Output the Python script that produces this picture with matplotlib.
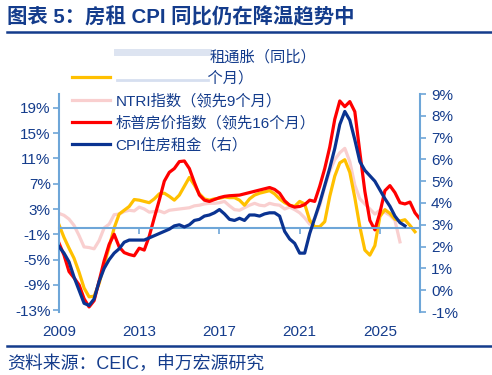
import matplotlib
matplotlib.use('Agg')
import matplotlib.pyplot as plt
from matplotlib.lines import Line2D
import numpy as np

plt.rcParams['font.family'] = ['Liberation Sans', 'Noto Sans CJK SC']
plt.rcParams['axes.unicode_minus'] = False

# 季度数据，起点 2009Q1
start_year = 2009.0
step = 0.25

rent_yoy = [0.5, -1.5, -3.2, -4.8, -7.0, -9.5, -10.9, -10.8, -8.8, -5.8, -3.0, 0.0,
            2.2, 2.8, 3.4, 4.5, 4.4, 4.2, 4.0, 4.6, 5.4, 5.5, 5.0, 4.4,
            5.2, 6.6, 8.0, 6.8, 5.4, 4.6, 4.4, 4.6, 4.7, 4.9, 4.8, 4.8,
            4.4, 3.6, 4.6, 5.2, 5.5, 5.7, 5.9, 5.4, 4.6, 4.0, 3.6, 3.4,
            4.2, 3.8, 1.2, 0.2, 0.2, 1.0, 5.0, 8.2, 10.3, 10.8, 8.8, 4.8,
            0.2, -3.5, -4.3, -2.8, 1.8, 2.9, 2.3, 1.4, 1.1, 1.3, 0.4, -0.6]

ntri = [2.3, 2.0, 1.4, 0.4, -1.2, -3.0, -3.1, -3.3, -2.0, 0.0, 0.6, 2.1,
        2.2, 2.6, 2.8, 2.7, 3.3, 3.0, 2.5, 2.6, 2.7, 2.4, 2.8, 2.9,
        3.0, 3.1, 3.2, 3.5, 3.6, 3.8, 3.9, 3.9, 4.0, 4.2, 3.5, 2.9,
        2.8, 3.2, 3.6, 3.9, 3.6, 3.5, 3.9, 3.7, 3.6, 3.0, 3.3, 2.9,
        2.4, 1.6, 0.6, 1.5, 3.5, 6.5, 9.0, 10.8, 11.9, 12.6, 10.5, 6.8,
        4.6, 3.8, 3.0, 2.2, 2.8, 2.5, 2.0, 1.2, -2.2]

sp_index = [-2.4, -4.3, -6.9, -7.9, -9.0, -11.2, -12.5, -11.5, -8.4, -5.2, -2.6, -1.0,
            -3.0, -3.9, -4.2, -4.4, -3.2, -3.5, -1.3, 1.6, 4.4, 7.4, 8.8, 9.4,
            10.5, 10.6, 9.4, 7.2, 5.2, 4.4, 4.2, 4.5, 4.8, 5.0, 5.1, 5.15,
            5.2, 5.4, 5.6, 5.8, 6.0, 6.2, 6.4, 6.1, 5.5, 4.3, 3.6, 3.3,
            3.4, 3.7, 4.4, 4.2, 6.6, 9.4, 12.8, 17.2, 20.1, 19.2, 20.0, 18.4,
            12.0, 5.8, 1.2, -0.3, 2.4, 5.9, 6.7, 5.6, 4.0, 3.8, 4.1, 2.4, 1.4]

cpi_rent = [2.0, 1.7, 1.3, 0.6, 0.0, -0.6, -0.7, -0.4, 0.4, 1.0, 1.4, 1.7,
            1.9, 2.2, 2.3, 2.3, 2.3, 2.3, 2.4, 2.5, 2.6, 2.7, 2.8, 2.95,
            3.0, 2.9, 3.0, 3.2, 3.25, 3.4, 3.45, 3.55, 3.7, 3.5, 3.25, 3.2,
            3.3, 3.2, 3.45, 3.45, 3.4, 3.5, 3.55, 3.55, 3.4, 2.7, 2.35, 2.15,
            1.7, 1.7, 2.6, 3.3, 4.0, 4.8, 5.6, 6.5, 7.6, 8.2, 7.8, 6.9,
            5.9, 5.5, 5.25, 5.0, 4.6, 4.2, 3.85, 3.4, 3.1, 2.95]

labels = ['个月）', 'NTRI指数（领先9个月）', '标普房价指数（领先16个月）', 'CPI住房租金（右）']
left_ticks = [-13, -9, -5, -1, 3, 7, 11, 15, 19]
right_ticks = [-1, 0, 1, 2, 3, 4, 5, 6, 7, 8, 9]
year_ticks = [2009, 2013, 2017, 2021, 2025]

def quarters(vals):
    return start_year + step * np.arange(len(vals))

navy = '#143c8c'
axis_blue = '#6ea6d8'

fig = plt.figure(figsize=(4.92, 3.75), dpi=100)
ax1 = fig.add_axes([59 / 492, 1 - 312 / 375, 361 / 492, 218 / 375])
ax2 = ax1.twinx()

l_ntri, = ax1.plot(quarters(ntri), ntri, color='#f9cfcf', lw=2.3)
l_rent, = ax1.plot(quarters(rent_yoy), rent_yoy, color='#ffc000', lw=2.3)
l_sp, = ax1.plot(quarters(sp_index), sp_index, color='#ff0000', lw=2.3)
l_cpi, = ax2.plot(quarters(cpi_rent), cpi_rent, color='#0a3391', lw=2.3)

ax1.set_xlim(2009, 2027)
ax1.set_ylim(-13.3, 21.2)
ax2.set_ylim(-1, 9)

ax1.set_yticks(left_ticks)
ax1.set_yticklabels([f'{v}%' for v in left_ticks])
ax2.set_yticks(right_ticks)
ax2.set_yticklabels([f'{v}%' for v in right_ticks])
ax1.set_xticks(year_ticks)
ax1.set_xticklabels([str(y) for y in year_ticks])

# 横轴放在 0 值处
ax1.spines['bottom'].set_position(('data', 0))
for ax in (ax1, ax2):
    for side in ('top', 'bottom', 'left', 'right'):
        ax.spines[side].set_visible(False)
    ax.patch.set_visible(False)
ax1.spines['bottom'].set_visible(True)
ax1.spines['left'].set_visible(True)
ax2.spines['right'].set_visible(True)
for sp in (ax1.spines['bottom'], ax1.spines['left'], ax2.spines['right']):
    sp.set_color(axis_blue)
    sp.set_linewidth(1.5)

ax1.tick_params(axis='x', direction='out', length=4, width=1.2, color=axis_blue,
                labelcolor=navy, labelsize=11, pad=66)
ax1.tick_params(axis='y', direction='out', length=4, width=1.2, color=axis_blue,
                labelcolor=navy, labelsize=11, pad=2)
ax2.tick_params(axis='y', direction='out', length=4, width=1.2, color=axis_blue,
                labelcolor=navy, labelsize=11, pad=4)

# 图例
handles = [l_rent, l_ntri, l_sp, l_cpi]
leg_labels = ['\u3000' * 6 + labels[0]] + labels[1:]
leg = fig.legend(handles, leg_labels, loc='upper left', bbox_to_anchor=(72 / 492, 1 - 71 / 375),
                 frameon=False, fontsize=11, handlelength=2.5, handletextpad=0.35,
                 labelspacing=0.5, borderaxespad=0, borderpad=0)
for t in leg.get_texts():
    t.set_color(navy)
fig.text(210 / 492, 1 - 57 / 375, '租通胀（同比）', fontsize=11, color=navy, va='center')
fig.add_artist(Line2D([117 / 492, 208 / 492], [1 - 52 / 375] * 2, color='#dde4f1', lw=5))
fig.add_artist(Line2D([117 / 492, 208 / 492], [1 - 80 / 375] * 2, color='#d6dff0', lw=2))

# 标题与来源
fig.text(7 / 492, 1 - 17 / 375, '图表 5：房租 CPI 同比仍在降温趋势中', fontsize=14.7,
         fontweight='bold', color=navy, va='center')
fig.add_artist(Line2D([7 / 492, 1], [1 - 32 / 375] * 2, color=navy, lw=1.8))
fig.add_artist(Line2D([7 / 492, 1], [1 - 346 / 375] * 2, color=navy, lw=1.8))
fig.text(7 / 492, 1 - 364 / 375, '资料来源：CEIC，申万宏源研究', fontsize=12.9,
         color=navy, va='center')

fig.savefig('out.png', dpi=100)
